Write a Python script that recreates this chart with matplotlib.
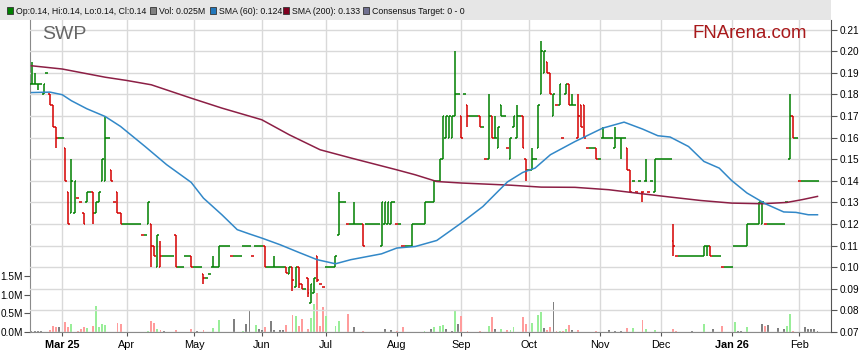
import numpy as np
import pandas as pd
import matplotlib
matplotlib.use("Agg")
import matplotlib.pyplot as plt
from matplotlib.collections import LineCollection
from matplotlib.patches import Rectangle

plt.rcParams['font.family'] = ['Liberation Sans', 'DejaVu Sans']

# daily bars, prices in tenths of a cent (185 = $0.185), one per weekday from 17 Feb 2025
opens = [
    185, 185, 185, 185, 180, 190, 180, 175, 165, 160,
    160, 155, 135, 125, 125, 132, 130, 125, 130, 135,
    135, 125, 130, 140, 140, 160, 145, 130, 135, 125,
    120, 120, 120, 120, 120, 120, 115, 115, 120, 120,
    110, 100, 100, 105, 105, 105, 105, 115, 100, 100,
    105, 105, 105, 100, 100, 100, 97, 95, 97, 100,
    100, 100, 110, 110, 110, 105, 105, 105, 105, 110,
    110, 110, 105, 110, 110, 110, 110, 100, 100, 100,
    100, 100, 100, 100, 97, 100, 91, 100, 92, 90,
    95, 83.5, 88, 105, 92, 91, 100, 100, 100, 100,
    115, 130, 130, 120, 120, 120, 120, 120, 120, 120,
    120, 120, 120, 120, 110, 120, 120, 120, 130, 120,
    120, 110, 110, 110, 110, 120, 120, 120, 120, 130,
    130, 130, 140, 140, 150, 160, 160, 160, 170, 180,
    170, 180, 175, 170, 170, 170, 170, 165, 150, 150,
    170, 160, 155, 175, 170, 155, 150, 165, 160, 170,
    170, 150, 145, 145, 150, 155, 180, 190, 195, 190,
    170, 175, 175, 160, 180, 185, 175, 175, 160, 175,
    175, 155, 155, 155, 155, 150, 160, 160, 160, 160,
    155, 160, 160, 160, 155, 145, 140, 135, 140, 135,
    140, 135, 140, 135, 150, 150, 150, 150, 150, 112,
    105, 105, 105, 105, 105, 105, 105, 105, 105, 105,
    110, 110, 105, 105, 105, 100, 100, 100, 100, 110,
    110, 110, 110, 110, 120, 120, 120, 120, 120, 120,
    120, 120, 120, 120, 120, 120, 130, 150, 170, 160,
    140, 140, 140, 140, 140, 140, 140,
]
highs = [
    195, 190, 185, 185, 185, 190, 180, 175, 165, 160,
    160, 155, 135, 150, 140, 132, 130, 125, 135, 135,
    135, 130, 135, 150, 170, 160, 145, 130, 135, 125,
    120, 120, 120, 120, 120, 120, 115, 115, 130, 120,
    110, 115, 112, 105, 105, 105, 105, 115, 100, 100,
    105, 105, 105, 100, 100, 100, 97, 95, 97, 105,
    100, 110, 110, 110, 110, 105, 105, 105, 105, 110,
    110, 110, 105, 110, 110, 110, 110, 100, 100, 105,
    100, 100, 100, 100, 100, 100, 100, 100, 92, 90,
    95, 92, 95, 105, 92, 91, 100, 100, 100, 105,
    135, 130, 130, 120, 120, 130, 120, 120, 120, 120,
    120, 120, 120, 120, 130, 130, 130, 130, 130, 120,
    120, 110, 110, 110, 120, 120, 120, 120, 130, 130,
    130, 140, 140, 150, 170, 170, 170, 170, 200, 180,
    170, 180, 175, 170, 170, 170, 170, 165, 150, 180,
    170, 170, 165, 175, 170, 155, 160, 170, 175, 170,
    170, 150, 145, 155, 150, 175, 205, 200, 195, 190,
    180, 175, 185, 160, 185, 185, 180, 175, 180, 175,
    175, 155, 155, 155, 155, 150, 165, 160, 160, 160,
    165, 160, 160, 160, 155, 145, 140, 135, 140, 135,
    150, 135, 140, 150, 150, 150, 150, 150, 150, 120,
    105, 105, 105, 105, 105, 105, 105, 105, 105, 110,
    110, 110, 105, 105, 105, 100, 100, 100, 100, 110,
    110, 110, 110, 120, 120, 120, 120, 130, 130, 120,
    120, 120, 120, 120, 120, 120, 130, 180, 170, 160,
    140, 140, 140, 140, 140, 140, 140,
]
lows = [
    185, 185, 182, 185, 180, 190, 175, 165, 155, 160,
    160, 140, 120, 125, 125, 132, 130, 120, 130, 135,
    120, 125, 130, 140, 140, 160, 140, 130, 125, 120,
    120, 120, 120, 120, 120, 120, 115, 115, 120, 100,
    105, 100, 100, 105, 105, 105, 105, 100, 100, 100,
    105, 105, 100, 100, 100, 100, 92, 95, 97, 100,
    100, 100, 110, 110, 110, 105, 105, 105, 105, 110,
    110, 110, 105, 110, 110, 110, 100, 100, 100, 100,
    100, 100, 100, 97.5, 97, 89, 91, 90.5, 90, 90,
    86, 83.5, 88, 93, 92, 91, 100, 100, 100, 100,
    115, 130, 130, 120, 120, 120, 120, 120, 110, 120,
    120, 120, 120, 120, 110, 120, 120, 120, 130, 120,
    120, 110, 110, 110, 110, 120, 120, 120, 120, 130,
    130, 130, 140, 140, 150, 160, 160, 160, 170, 180,
    160, 180, 165, 170, 170, 170, 165, 165, 150, 150,
    160, 160, 155, 170, 170, 155, 150, 165, 160, 170,
    155, 140, 145, 145, 150, 155, 180, 190, 190, 180,
    170, 175, 175, 160, 180, 175, 175, 175, 160, 165,
    160, 155, 155, 155, 150, 150, 160, 160, 160, 160,
    155, 160, 150, 160, 145, 135, 140, 135, 140, 130,
    140, 135, 140, 135, 150, 150, 150, 150, 150, 105,
    105, 105, 105, 105, 105, 105, 105, 105, 105, 105,
    105, 105, 105, 105, 105, 100, 100, 100, 100, 110,
    110, 110, 110, 110, 120, 120, 120, 120, 120, 120,
    120, 120, 120, 120, 120, 120, 130, 150, 160, 160,
    140, 140, 140, 140, 140, 140, 140,
]
closes = [
    185, 185, 185, 185, 185, 190, 175, 165, 160, 160,
    160, 140, 120, 140, 140, 132, 130, 120, 135, 135,
    125, 130, 135, 150, 160, 160, 140, 130, 125, 120,
    120, 120, 120, 120, 120, 120, 115, 115, 130, 110,
    105, 115, 105, 105, 105, 105, 105, 100, 100, 100,
    105, 105, 100, 100, 100, 100, 95, 95, 97, 100,
    100, 110, 110, 110, 110, 105, 105, 105, 105, 110,
    110, 110, 105, 110, 110, 110, 100, 100, 100, 100,
    100, 100, 100, 97.5, 100, 94, 100, 92, 90, 90,
    88, 92, 95, 94, 92, 91, 100, 100, 100, 105,
    130, 130, 130, 120, 120, 120, 120, 120, 110, 120,
    120, 120, 120, 120, 130, 130, 130, 130, 130, 120,
    120, 110, 110, 110, 120, 120, 120, 120, 130, 130,
    130, 140, 140, 150, 170, 170, 170, 170, 180, 180,
    160, 180, 170, 170, 170, 170, 165, 165, 150, 170,
    160, 160, 165, 170, 170, 155, 160, 170, 170, 170,
    155, 145, 145, 150, 150, 175, 200, 200, 190, 180,
    180, 175, 185, 160, 185, 175, 175, 175, 170, 165,
    160, 155, 155, 155, 150, 150, 160, 160, 160, 160,
    160, 160, 160, 160, 145, 135, 140, 135, 140, 135,
    140, 135, 140, 150, 150, 150, 150, 150, 150, 110,
    105, 105, 105, 105, 105, 105, 105, 105, 105, 110,
    110, 105, 105, 105, 105, 100, 100, 100, 100, 110,
    110, 110, 110, 120, 120, 120, 120, 130, 130, 120,
    120, 120, 120, 120, 120, 120, 130, 170, 160, 160,
    140, 140, 140, 140, 140, 140, 140,
]
# volume in millions of shares
volumes = [
    .04, .02, .02, .02, .01, .01, .05, .16, .14, .14,
    .01, .27, .14, .22, 0, .02, .09, .14, .12, 0,
    .16, .71, .13, .22, .19, 0, .01, 0, .23, .22,
    0, 0, 0, 0, 0, .01, 0, 0, .03, .30,
    .25, .07, .05, .03, 0, 0, 0, .05, 0, 0,
    0, 0, .09, 0, .02, 0, .06, 0, 0, .12,
    0, .33, 0, 0, 0, 0, .36, 0, 0, .02,
    .22, .56, 0, .18, .09, .05, .13, 0, .31, .05,
    0, .05, .05, .20, 0, .45, .42, .15, .34, 0,
    .07, .39, .75, 1.04, .16, .68, .43, 0, 0, .16,
    .30, 0, 0, .49, 0, .13, 0, 0, .04, 0,
    0, 0, 0, 0, 0, .08, 0, .06, 0, .04,
    0, .13, 0, 0, 0, 0, 0, 0, .03, 0,
    .09, .13, 0, .15, .18, .08, 0, .03, .60, .22,
    .42, 0, .03, 0, 0, 0, .03, 0, 0, .15,
    .40, .08, 0, .08, 0, .05, .06, .14, 0, 0,
    .41, .22, 0, .25, 0, .46, .55, .12, .05, .14,
    .82, .02, .02, .02, .07, .20, .05, 0, .05, 0,
    0, 0, 0, 0, .04, 0, 0, 0, .05, 0,
    .03, 0, .02, 0, .12, 0, .12, 0, 0, .33,
    .09, 0, 0, .06, 0, 0, 0, 0, 0, .09,
    .02, 0, 0, 0, 0, .02, 0, 0, 0, .22,
    0, 0, .09, 0, 0, .15, 0, 0, 0, .26,
    .02, .02, 0, .13, 0, 0, 0, 0, .22, .15,
    .18, 0, 0, .12, 0, .09, .15, .49, .02, 0,
    0, .01, .13, .09, .07, .07, .025,
]

# moving averages (bar number, price)
sma60_day = [0, 6, 10, 13, 18, 24, 29, 37, 44, 52, 56, 62, 67, 71, 75, 81, 87, 93,
             99, 104, 114, 119, 125, 132, 140, 147, 155, 160, 164, 169, 177, 186,
             193, 199, 204, 208, 214, 219, 224, 228, 233, 239, 245, 249, 253, 256]
sma60_val = [.1809, .1811, .1799, .1771, .1734, .1698, .1652, .1559, .1475, .1393,
             .132, .1243, .1174, .1154, .1135, .1104, .1069, .1035, .1016, .1035,
             .1062, .1089, .1096, .1124, .1205, .1281, .1395, .1439, .1459, .1521,
             .1582, .1644, .1672, .164, .1609, .1603, .1559, .149, .1459, .1402,
             .1344, .1294, .1256, .1254, .1243, .1243]
sma200_day = [0, 10, 24, 31, 39, 52, 62, 75, 84, 94, 104, 119, 125, 132, 140, 156,
              166, 177, 188, 199, 208, 218, 228, 238, 246, 251, 256]
sma200_val = [.1933, .1918, .188, .1865, .1845, .1783, .1737, .1683, .1613, .1544,
              .1506, .1451, .1428, .1397, .139, .138, .1371, .137, .1359, .134,
              .1325, .1309, .1297, .1294, .13, .1313, .1328]

month_labels = ["Mar 25", "Apr", "May", "Jun", "Jul", "Aug", "Sep", "Oct",
                "Nov", "Dec", "Jan 26", "Feb"]

o = np.array(opens) / 1000
h = np.array(highs) / 1000
l = np.array(lows) / 1000
c = np.array(closes) / 1000
v = np.array(volumes)
n = len(c)
x = np.arange(n)
dates = pd.bdate_range("2025-02-17", periods=n)
months = dates.to_period("M")
month_idx = [i for i in range(1, n) if months[i] != months[i - 1]]

prev = np.concatenate([[c[0]], c[:-1]])
GREEN, RED = "#008000", "#d40000"
bar_col = [GREEN if c[i] >= prev[i] else RED for i in range(n)]
vol_col = ["#99ee99" if c[i] > prev[i] else "#ff9c9c" if c[i] < prev[i] else "#808080"
           for i in range(n)]

W, H = 859, 363
fig = plt.figure(figsize=(W / 100, H / 100), dpi=100)
fig.add_artist(Rectangle((0, 1 - 20 / H), 831 / W, 20 / H, transform=fig.transFigure,
                         facecolor="#e6e6e6", edgecolor="none", zorder=0))

ax = fig.add_axes([30 / W, 1 - 332 / H, 801 / W, 312 / H])   # volume, left scale
ax2 = ax.twinx()                                              # price, right scale

# volume
ax.bar(x, v, width=0.62, color=vol_col, zorder=2)
ax.set_ylim(0, 8.42)
ax.set_yticks([0, 0.5, 1.0, 1.5])
ax.set_yticklabels(["0.0M", "0.5M", "1.0M", "1.5M"])
ax.set_xlim(-0.5, 260.4)
ax.set_xticks(month_idx)
ax.set_xticklabels(month_labels)
for t in ax.get_xticklabels():
    if " " in t.get_text():
        t.set_fontweight("bold")
ax.grid(axis="x", color="#d9d9d9", lw=1.0)
ax.set_axisbelow(True)

# OHLC bars
segs, cols = [], []
for i in range(n):
    segs += [[(i, l[i]), (i, h[i])], [(i - 0.5, o[i]), (i, o[i])], [(i, c[i]), (i + 0.5, c[i])]]
    cols += [bar_col[i]] * 3
ax2.add_collection(LineCollection(segs, colors=cols, linewidths=1.1, capstyle="butt", zorder=3))

ax2.plot(sma200_day, sma200_val, color="#8c1f45", lw=1.1, zorder=4)
ax2.plot(sma60_day, sma60_val, color="#3288c8", lw=1.1, zorder=4)

ax2.set_ylim(0.07, 0.2145)
ax2.set_yticks(np.round(np.arange(0.07, 0.2101, 0.01), 2))
ax2.set_yticklabels([f"{t:.2f}" for t in np.arange(0.07, 0.2101, 0.01)])
ax2.grid(axis="y", color="#d9d9d9", lw=1.0, zorder=0)
ax2.set_axisbelow(True)

for s in ["top", "right"]:
    ax.spines[s].set_visible(False)
for s in ["top", "left", "bottom"]:
    ax2.spines[s].set_visible(False)
ax.spines["left"].set_color("#8a8a8a")
ax.spines["bottom"].set_color("#8a8a8a")
ax2.spines["right"].set_color("#555555")

ax.tick_params(axis="y", length=4, pad=1, labelsize=7.2, color="#555555")
ax.tick_params(axis="x", length=3, pad=3, labelsize=7.8, color="#555555")
ax2.tick_params(axis="y", length=4, pad=2, labelsize=7.2, color="#555555")

fig.text(42 / W, 1 - 39 / H, "SWP", fontsize=14, color="#666666", va="baseline")
fig.text(693 / W, 1 - 38.5 / H, "FNArena.com", fontsize=13.4, color="#a8191b", va="baseline")

# header legend
items = [(7, GREEN, "Op:0.14, Hi:0.14, Lo:0.14, Cl:0.14"),
         (150, "#808080", "Vol: 0.025M"),
         (210, "#2277bb", "SMA (60): 0.124"),
         (283, "#800020", "SMA (200): 0.133"),
         (363, "#707090", "Consensus Target: 0 - 0")]
for px, col, txt in items:
    fig.add_artist(Rectangle((px / W, 1 - 13.5 / H), 6 / W, 7 / H, transform=fig.transFigure,
                             facecolor=col, edgecolor="#333333", lw=0.6))
    fig.text((px + 9) / W, 1 - 13.5 / H, txt, fontsize=6.3, color="#111111", va="baseline")

fig.savefig("out.png", dpi=100)
